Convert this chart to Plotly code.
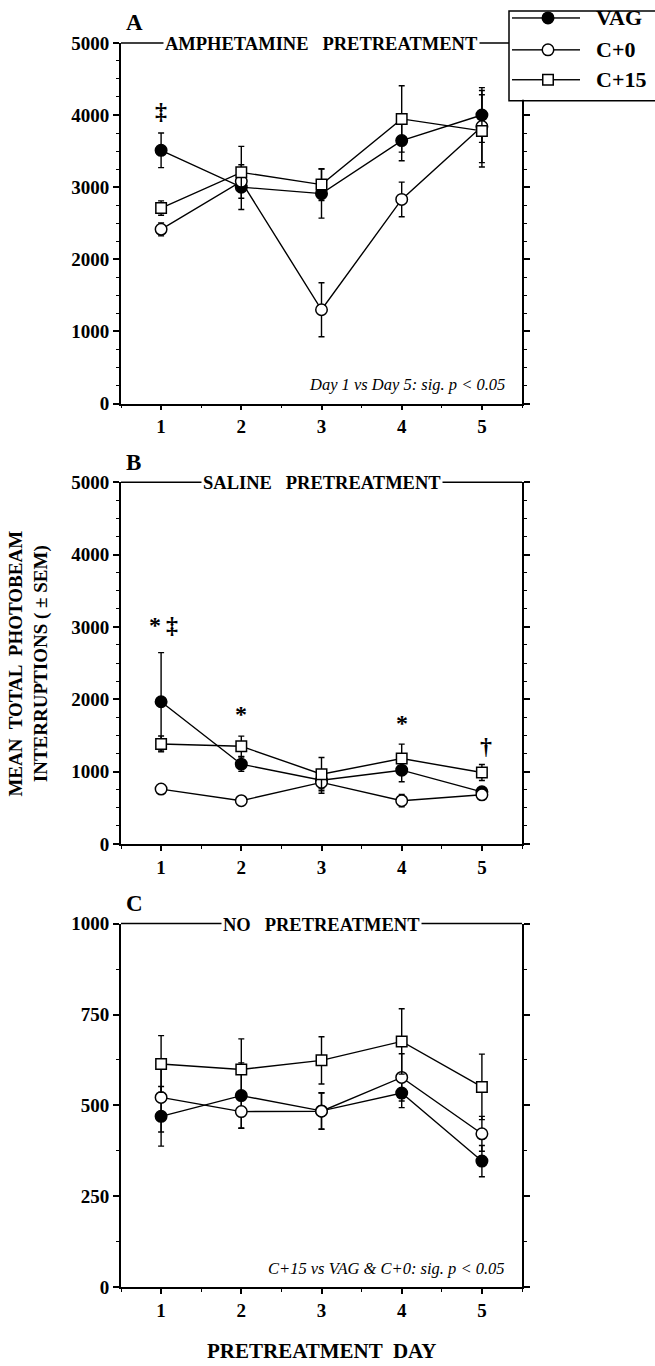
import plotly.graph_objects as go

days = [1, 2, 3, 4, 5]
groups = ["VAG", "C+0", "C+15"]

# Panel A: amphetamine pretreatment
a_vag = [3510, 3000, 2910, 3646, 4000]
a_vag_err = [240, 310, 340, 280, 380]
a_c0 = [2415, 3080, 1300, 2830, 3840]
a_c0_err = [90, 120, 375, 240, 500]
a_c15 = [2710, 3205, 3035, 3946, 3780]
a_c15_err = [100, 360, 220, 460, 500]

# Panel B: saline pretreatment
b_vag = [1965, 1102, 880, 1019, 720]
b_vag_err = [680, 100, 120, 160, 60]
b_c0 = [758, 597, 850, 597, 679]
b_c0_err = [60, 30, 150, 85, 40]
b_c15 = [1382, 1350, 964, 1180, 987]
b_c15_err = [110, 140, 230, 200, 110]

# Panel C: no pretreatment
c_vag = [470, 527, 485, 534, 347]
c_vag_err = [82, 90, 50, 40, 43]
c_c0 = [522, 483, 484, 577, 422]
c_c0_err = [95, 45, 50, 65, 48]
c_c15 = [614, 599, 624, 676, 551]
c_c15_err = [78, 84, 65, 90, 90]

panel_titles = ["AMPHETAMINE   PRETREATMENT", "SALINE   PRETREATMENT", "NO   PRETREATMENT"]
panel_letters = ["A", "B", "C"]
y_ranges = [[0, 5000], [0, 5000], [0, 1000]]
y_dticks = [1000, 1000, 250]
y_minor = [250, 250, 125]
x_ticks = [1, 2, 3, 4, 5]
x_minor_ticks = [0.5, 1.5, 2.5, 3.5, 4.5, 5.5]
notes = ["Day 1 vs Day 5: sig. p < 0.05", None, "C+15 vs VAG & C+0: sig. p < 0.05"]

W, H = 655, 1366
FONT = "Liberation Serif"

def px_x(p):
    return p / W

def px_y(r):
    # the rendered page maps paper [1..0] onto pixel rows 8..1358
    return 1 - (r - 8) / 1350.0

x_left, x_right = 121, 522
panel_tb = [(41, 403), (482, 845), (925, 1290)]

# legend key box geometry (pixel rows / columns of the key area)
leg_left, leg_right, leg_top, leg_bot = 509, 655, 9, 99
leg_rows = [16, 48, 78]
leg_marker_col = 548

styles = {
    "VAG": dict(symbol="circle", color="black", size=11.5),
    "C+0": dict(symbol="circle", color="white", size=11.5),
    "C+15": dict(symbol="square", color="white", size=10.5),
}

data = [
    [(a_vag, a_vag_err), (a_c0, a_c0_err), (a_c15, a_c15_err)],
    [(b_vag, b_vag_err), (b_c0, b_c0_err), (b_c15, b_c15_err)],
    [(c_vag, c_vag_err), (c_c0, c_c0_err), (c_c15, c_c15_err)],
]

fig = go.Figure()
shapes = []
annotations = []
TICKFONT = dict(family=FONT, size=19, color="black", weight="bold")

for i in range(3):
    sfx = "" if i == 0 else str(i + 1)
    xa = "x" + sfx
    ya = "y" + sfx
    for g, (vals, errs) in zip(groups, data[i]):
        st = styles[g]
        fig.add_trace(go.Scatter(
            x=days, y=vals, mode="lines+markers", name=g, showlegend=False,
            xaxis=xa, yaxis=ya,
            line=dict(color="black", width=1.4),
            marker=dict(symbol=st["symbol"], size=st["size"], color=st["color"], opacity=1,
                        line=dict(color="black", width=1.5)),
            error_y=dict(type="data", array=errs, visible=True, color="black",
                         thickness=1.4, width=3),
        ))
    top, bot = panel_tb[i]
    fig.layout["xaxis" + sfx] = dict(
        domain=[px_x(x_left), px_x(x_right)], anchor=ya, range=[0.5, 5.5],
        tickvals=x_ticks, ticks="outside", ticklen=5, tickwidth=1.5, tickcolor="black",
        showline=True, linecolor="black", linewidth=1.8, showgrid=False, zeroline=False,
        minor=dict(tickvals=x_minor_ticks, ticks="outside", ticklen=3,
                   tickwidth=1.2, tickcolor="black"),
        tickfont=TICKFONT, fixedrange=True,
    )
    fig.layout["yaxis" + sfx] = dict(
        domain=[px_y(bot), px_y(top)], anchor=xa, range=y_ranges[i],
        dtick=y_dticks[i], tick0=0, ticks="outside", ticklen=6, tickwidth=1.5, tickcolor="black",
        showline=True, linecolor="black", linewidth=1.8, mirror="ticks",
        showgrid=False, zeroline=False,
        minor=dict(dtick=y_minor[i], ticks="outside", ticklen=3, tickwidth=1.2, tickcolor="black"),
        tickfont=TICKFONT, fixedrange=True,
    )
    shapes.append(dict(type="line", xref="paper", yref="paper",
                       x0=px_x(x_left), x1=px_x(leg_left if i == 0 else x_right),
                       y0=px_y(top), y1=px_y(top), line=dict(color="black", width=1.5),
                       layer="above"))
    annotations.append(dict(text=panel_titles[i], xref="paper", yref="paper",
                            x=px_x((x_left + x_right) / 2), y=px_y(top + 1), showarrow=False,
                            xanchor="center", yanchor="middle", bgcolor="white",
                            borderpad=1,
                            font=dict(family=FONT, size=18.5, color="black", weight="bold")))
    annotations.append(dict(text=panel_letters[i], xref="paper", yref="paper",
                            x=px_x(124), y=px_y(top - 20), showarrow=False,
                            xanchor="left", yanchor="middle",
                            font=dict(family=FONT, size=23, color="black", weight="bold")))
    if notes[i]:
        annotations.append(dict(text="<i>" + notes[i] + "</i>", xref="paper", yref="paper",
                                x=px_x(507), y=px_y(bot - 19), showarrow=False,
                                xanchor="right", yanchor="middle",
                                font=dict(family=FONT, size=16.5, color="black")))

sig_marks = [
    ("‡", 1.0, 4050, "x", "y"),
    ("*", 0.92, 3030, "x2", "y2"),
    ("‡", 1.13, 3030, "x2", "y2"),
    ("*", 2.0, 1790, "x2", "y2"),
    ("*", 4.0, 1670, "x2", "y2"),
    ("†", 5.05, 1350, "x2", "y2"),
]
for t, xv, yv, xr, yr in sig_marks:
    annotations.append(dict(text=t, x=xv, y=yv, xref=xr, yref=yr, showarrow=False,
                            font=dict(family=FONT, size=24, color="black", weight="bold")))

annotations.append(dict(text="MEAN  TOTAL  PHOTOBEAM<br>INTERRUPTIONS ( ± SEM)", xref="paper", yref="paper",
                        x=px_x(29), y=px_y(664), textangle=-90, showarrow=False,
                        xanchor="center", yanchor="middle",
                        font=dict(family=FONT, size=19, color="black", weight="bold")))
annotations.append(dict(text="PRETREATMENT  DAY", xref="paper", yref="paper",
                        x=px_x(321), y=px_y(1354), showarrow=False,
                        xanchor="center", yanchor="middle",
                        font=dict(family=FONT, size=21, color="black", weight="bold")))

# legend key drawn by hand: hide the right axis segment under it, then outline
shapes.append(dict(type="rect", xref="paper", yref="paper",
                   x0=px_x(515), x1=px_x(534), y0=px_y(98), y1=px_y(30),
                   line=dict(width=0), fillcolor="white", layer="above"))
shapes.append(dict(type="rect", xref="paper", yref="paper",
                   x0=px_x(leg_left), x1=px_x(662), y0=px_y(leg_bot), y1=px_y(leg_top),
                   line=dict(color="black", width=1.5), fillcolor="rgba(0,0,0,0)", layer="above"))
for g, ry in zip(groups, leg_rows):
    for x0, x1 in [(512, leg_marker_col - 5.5), (leg_marker_col + 5.5, 580)]:
        shapes.append(dict(type="line", xref="paper", yref="paper",
                           x0=px_x(x0), x1=px_x(x1), y0=px_y(ry), y1=px_y(ry),
                           line=dict(color="black", width=1.4), layer="above"))
    annotations.append(dict(text=g, xref="paper", yref="paper",
                            x=px_x(594), y=px_y(ry), showarrow=False,
                            xanchor="left", yanchor="middle",
                            font=dict(family=FONT, size=22, color="black", weight="bold")))

fig.layout["xaxis4"] = dict(domain=[px_x(leg_left), px_x(leg_right)], range=[leg_left, leg_right],
                            anchor="y4", visible=False, fixedrange=True, showgrid=False,
                            zeroline=False)
fig.layout["yaxis4"] = dict(domain=[px_y(leg_bot), px_y(leg_top)], range=[leg_bot, leg_top],
                            anchor="x4", visible=False, fixedrange=True, showgrid=False,
                            zeroline=False)
fig.add_trace(go.Scatter(
    x=[leg_marker_col] * 3, y=leg_rows, mode="markers", xaxis="x4", yaxis="y4", showlegend=False,
    marker=dict(symbol=[styles[g]["symbol"] for g in groups],
                color=[styles[g]["color"] for g in groups],
                size=[styles[g]["size"] for g in groups],
                opacity=1,
                line=dict(color="black", width=1.5)),
    hoverinfo="skip",
))

fig.update_layout(
    width=W, height=H, margin=dict(l=0, r=0, t=0, b=0),
    paper_bgcolor="white", plot_bgcolor="rgba(0,0,0,0)",
    font=dict(family=FONT, color="black"),
    shapes=shapes, annotations=annotations, showlegend=False,
)

fig.write_html("out.html", config={"displayModeBar": False},
               post_script="document.body.style.margin='0';document.body.style.overflow='hidden';")
